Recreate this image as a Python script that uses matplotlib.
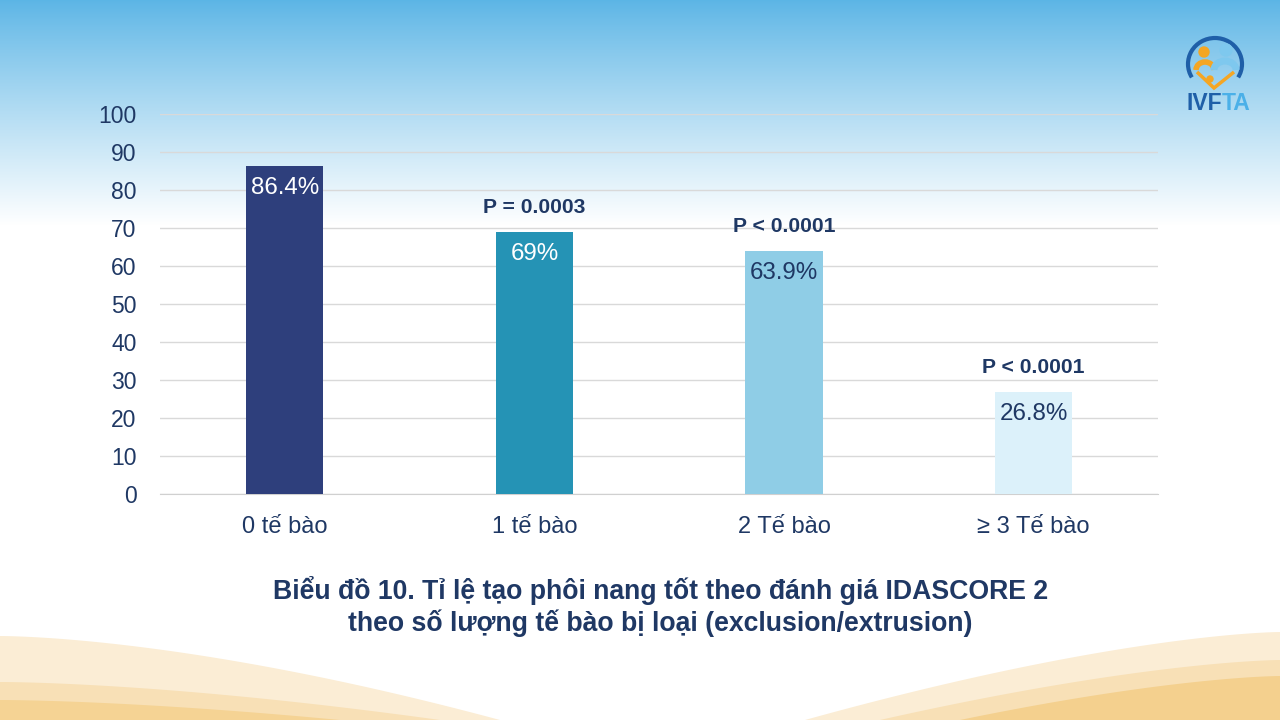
import numpy as np
import matplotlib.pyplot as plt
from matplotlib.patches import Circle, Arc, Polygon

plt.rcParams['font.family'] = ['Liberation Sans', 'DejaVu Sans']

categories = ['0 tế bào', '1 tế bào', '2 Tế bào', '≥ 3 Tế bào']
values = [86.4, 69.0, 63.9, 26.8]
value_labels = ['86.4%', '69%', '63.9%', '26.8%']
p_labels = ['', 'P = 0.0003', 'P < 0.0001', 'P < 0.0001']
bar_colors = ['#2E3F7C', '#2593B5', '#8FCDE6', '#DCF1FA']
label_colors = ['white', 'white', '#1F3864', '#1F3864']
title = ('Biểu đồ 10. Tỉ lệ tạo phôi nang tốt theo đánh giá IDASCORE 2\n'
         'theo số lượng tế bào bị loại (exclusion/extrusion)')

navy = '#1F3864'

fig = plt.figure(figsize=(12.8, 7.2), dpi=100)

# background: sky gradient on top, warm waves at the bottom
# (pixel coords, y grows downward, so arc angles are mirrored)
bg = fig.add_axes([0, 0, 1, 1], zorder=0)
bg.set_xlim(0, 1280)
bg.set_ylim(720, 0)
bg.axis('off')
t = np.linspace(0, 720, 720)[:, None]
top = np.array([0.36, 0.71, 0.90])
fade = np.clip(t / 225, 0, 1) ** 0.9
grad = top * (1 - fade) + np.array([1, 1, 1]) * fade
grad = np.repeat(grad[:, None, :], 2, axis=1)
bg.imshow(grad, extent=(0, 1280, 720, 0), aspect='auto', zorder=0)

left_layers = [
    ('#FBEDD5', 636, 500),
    ('#F8E0B6', 682, 440),
    ('#F5D394', 700, 340),
]
for col, y0, xe in left_layers:
    xx = np.linspace(0, xe, 80)
    yy = y0 + (720 - y0) * (xx / xe) ** 1.6
    pts = np.column_stack([xx, yy]).tolist() + [[0, 720]]
    bg.add_patch(Polygon(pts, closed=True, color=col, lw=0))
right_layers = [
    ('#FBEDD5', 632, 805),
    ('#F8E0B6', 660, 880),
    ('#F4D08E', 676, 960),
]
for col, y0, xs0 in right_layers:
    xx = np.linspace(1280, xs0, 80)
    yy = y0 + (720 - y0) * ((1280 - xx) / (1280 - xs0)) ** 1.5
    pts = np.column_stack([xx, yy]).tolist() + [[1280, 720]]
    bg.add_patch(Polygon(pts, closed=True, color=col, lw=0))

# logo
orange, lblue, dblue = '#F5A623', '#7EC8EE', '#1F5FA8'
bg.add_patch(Arc((1215, 64), 54, 52, theta1=150, theta2=390, color=dblue, lw=3))
bg.add_patch(Circle((1204, 52), 5, color=orange))
bg.add_patch(Circle((1226, 50), 6, color=lblue))
# shoulders / arms curving down into a heart
bg.add_patch(Arc((1205, 70), 18, 16, theta1=180, theta2=360, color=orange, lw=4))
bg.add_patch(Arc((1225, 70), 22, 18, theta1=180, theta2=360, color=lblue, lw=5))
bg.add_patch(Polygon([[1197, 72], [1214, 88], [1234, 72]], closed=False,
                     fill=False, ec=orange, lw=2.5))
bg.add_patch(Circle((1210, 79), 3, color=orange))
bg.text(1222, 103, 'IVF', fontsize=16.5, fontweight='bold', color=dblue,
        ha='right', va='center')
bg.text(1222, 103, 'TA', fontsize=16.5, fontweight='bold', color='#4BB0E8',
        ha='left', va='center')

# chart
ax = fig.add_axes([0.125, 0.3139, 0.78, 0.5278], zorder=1)
ax.patch.set_alpha(0)
x = np.arange(len(categories))
ax.bar(x, values, width=0.31, color=bar_colors, zorder=3)
ax.set_xlim(-0.5, 3.5)
ax.set_ylim(0, 100)
ax.set_yticks(np.arange(0, 101, 10))
ax.set_xticks(x)
ax.set_xticklabels(categories, fontsize=17)
ax.grid(axis='y', color='#D9D9D9', lw=1, zorder=0)
for s in ['left', 'right', 'top']:
    ax.spines[s].set_visible(False)
ax.spines['bottom'].set_color('#D0D0D0')
ax.tick_params(length=0, colors=navy)
ax.tick_params(axis='y', labelsize=16.5, pad=17)
ax.tick_params(axis='x', pad=16)

for i, (v, lab) in enumerate(zip(values, value_labels)):
    ax.annotate(lab, (x[i], v), xytext=(0, -16), textcoords='offset points',
                ha='center', va='center', fontsize=17.4, color=label_colors[i], zorder=4)
    if p_labels[i]:
        ax.annotate(p_labels[i], (x[i], v), xytext=(0, 17.5), textcoords='offset points',
                    ha='center', va='center', fontsize=15.2, fontweight='bold',
                    color=navy, zorder=4)

fig.text(0.516, 0.158, title, ha='center', va='center', fontsize=19.2,
         fontweight='bold', color=navy, linespacing=1.2, zorder=2)

fig.savefig('out.png', dpi=100)
